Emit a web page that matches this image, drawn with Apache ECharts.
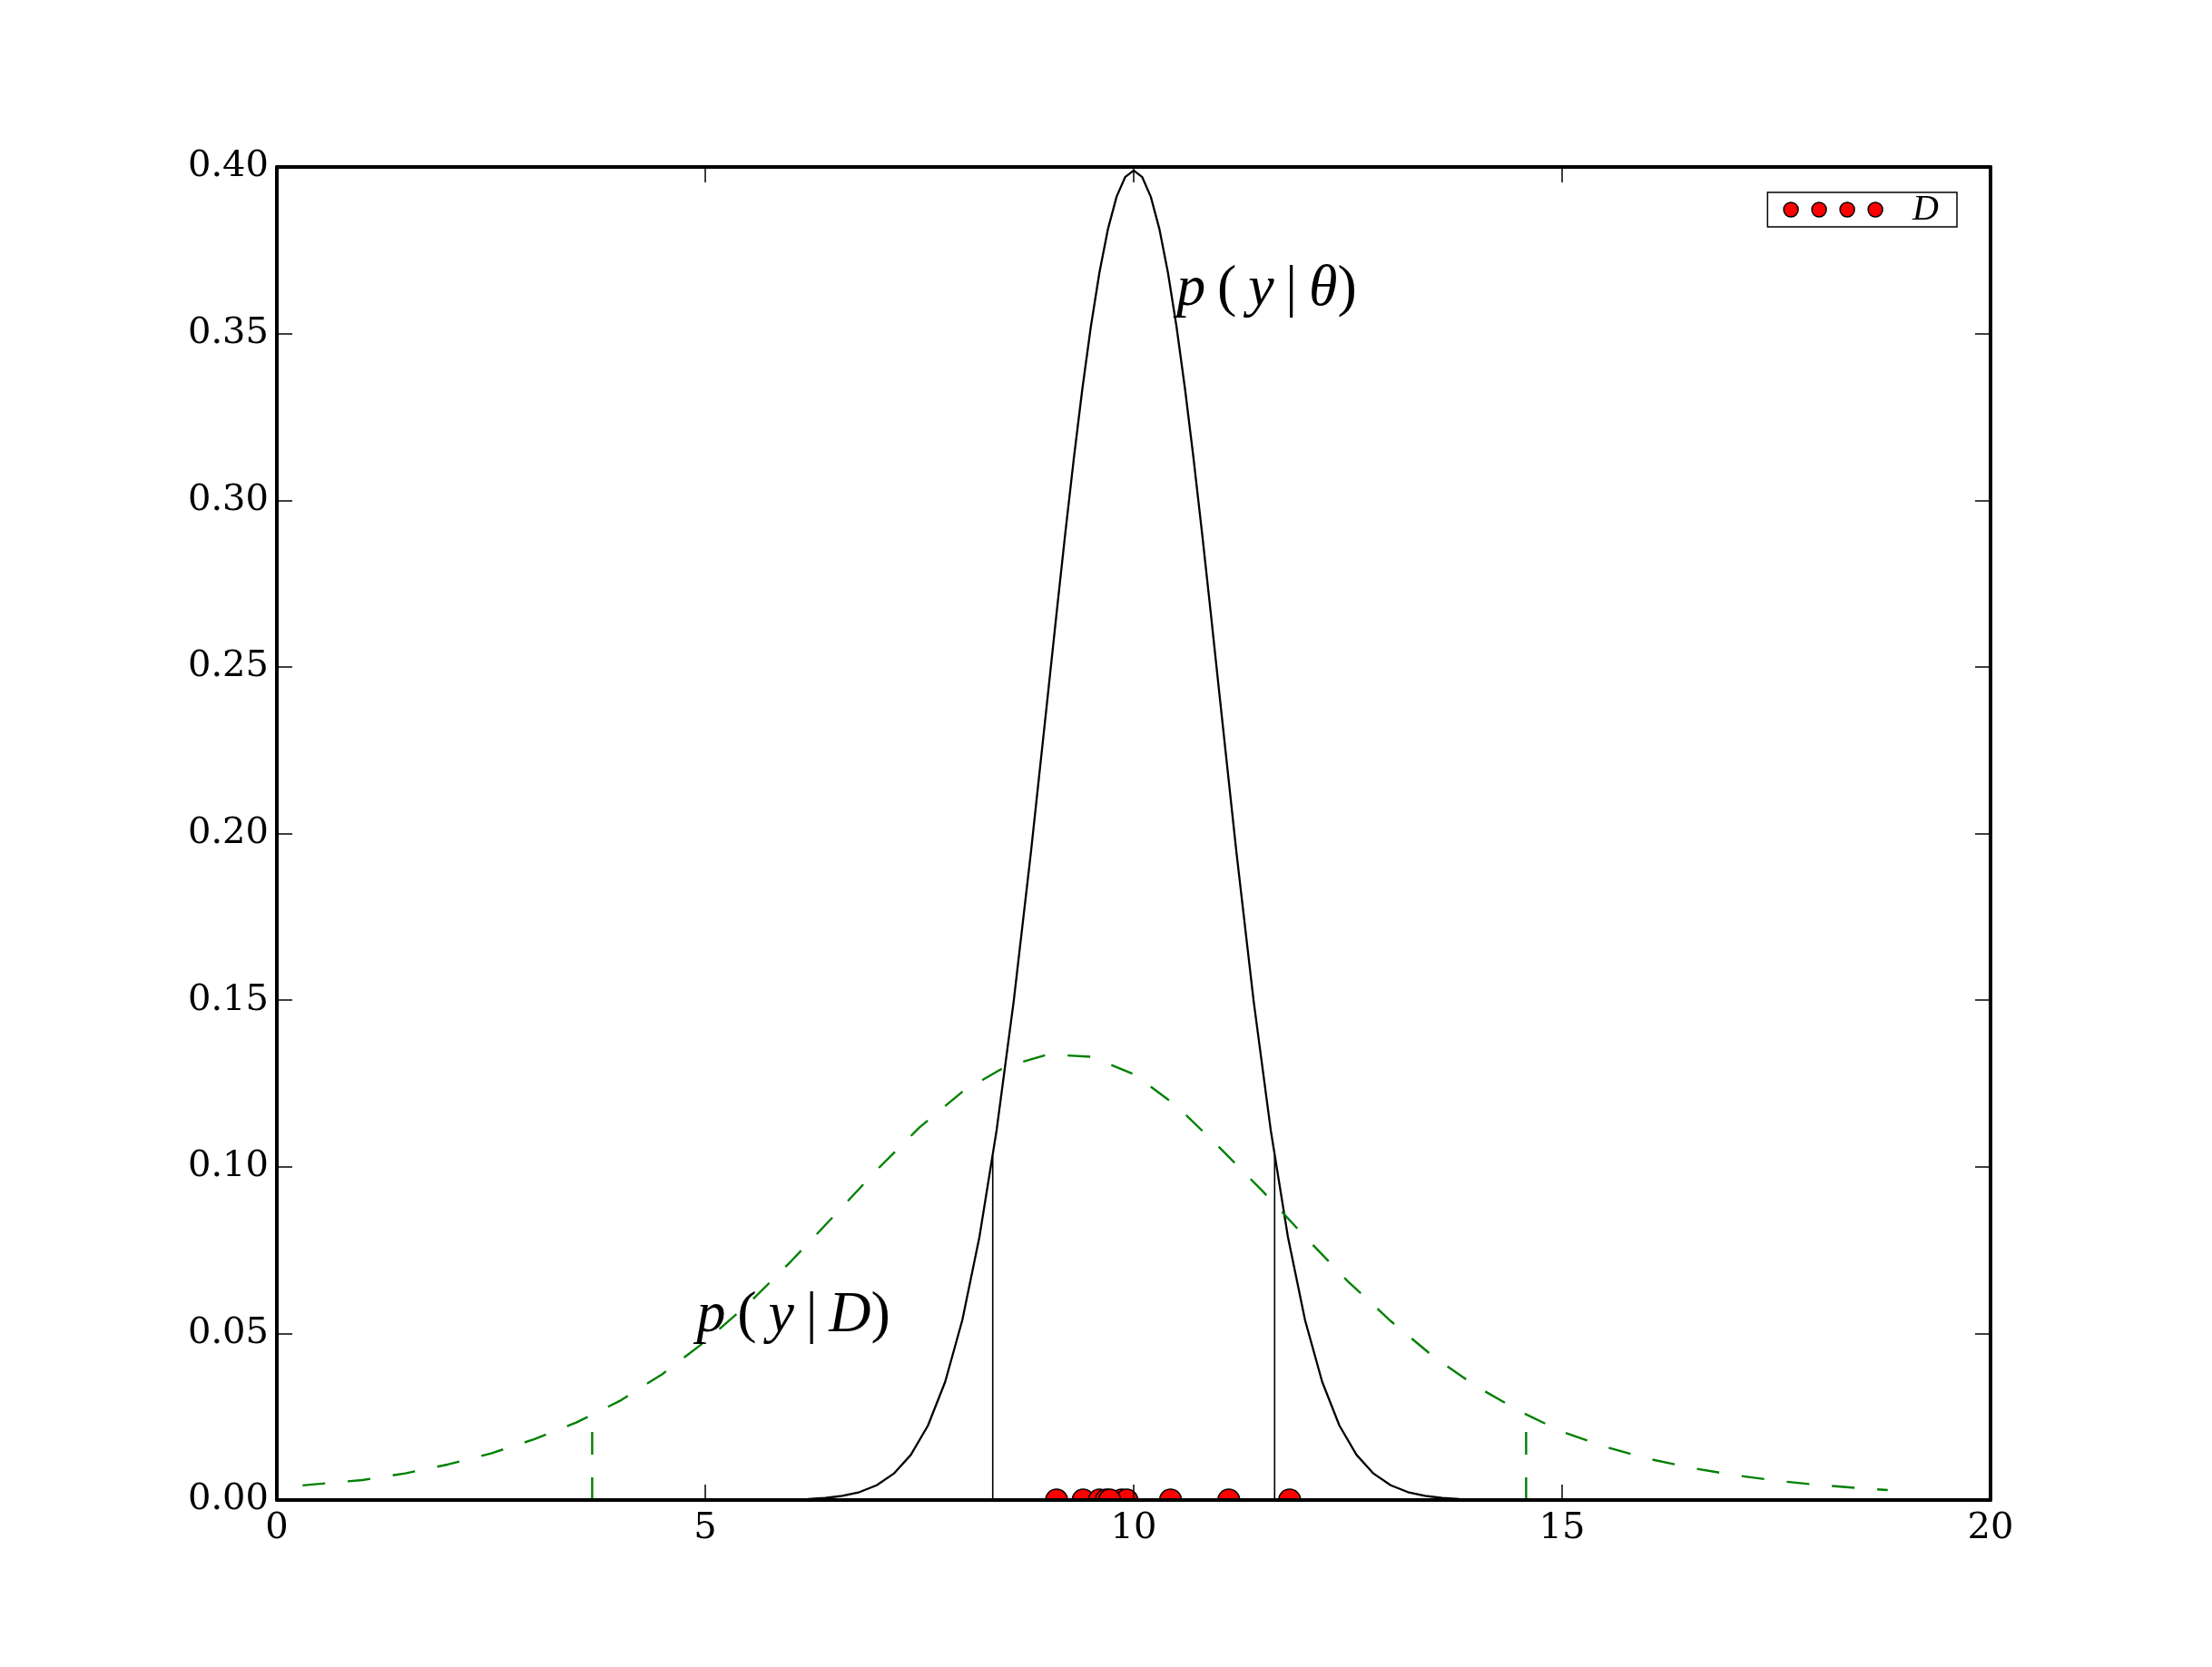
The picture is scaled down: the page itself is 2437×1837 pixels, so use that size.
<!DOCTYPE html>
<html><head><meta charset="utf-8">
<script src="https://cdn.jsdelivr.net/npm/echarts@6/dist/echarts.min.js"></script>
<style>html,body{margin:0;padding:0;background:#fff}#chart{width:2437px;height:1837px}</style>
</head><body><div id="chart"></div>
<script>
// ---- data ----
// p(y|theta): solid black density curve
const thetaX = [0,
  6.0,6.2,6.4,6.6,6.8,7.0,7.2,7.4,7.6,7.8,8.0,8.2,8.4,8.6,8.8,
  9.0,9.1,9.2,9.3,9.4,9.5,9.6,9.7,9.8,9.9,10.0,10.1,10.2,10.3,10.4,10.5,10.6,10.7,10.8,10.9,11.0,
  11.2,11.4,11.6,11.8,12.0,12.2,12.4,12.6,12.8,13.0,13.2,13.4,13.6,13.8,14.0,
  20];
const thetaY = [0,
  0.00013,0.00029,0.00061,0.00123,0.00238,0.00443,0.00792,0.01358,0.02239,0.03547,0.05399,0.07895,0.11092,0.14973,0.19419,
  0.24197,0.26609,0.28969,0.31225,0.33322,0.35207,0.36827,0.38139,0.39104,0.39695,0.39894,0.39695,0.39104,0.38139,0.36827,0.35207,0.33322,0.31225,0.28969,0.26609,0.24197,
  0.19419,0.14973,0.11092,0.07895,0.05399,0.03547,0.02239,0.01358,0.00792,0.00443,0.00238,0.00123,0.00061,0.00029,0.00013,
  0];
// interval lines of p(y|theta)
const thetaIntX = [8.355, 11.645];
const thetaIntTop = [0.1031, 0.1031];

// p(y|D): dashed green predictive curve
const predX = [0.3,1.0,1.5,2.0,2.5,3.0,3.5,4.0,4.5,5.0,5.5,6.0,6.5,7.0,7.5,8.0,8.5,9.0,9.5,
  10.0,10.5,11.0,11.5,12.0,12.5,13.0,13.5,14.0,14.5,15.0,15.5,16.0,16.5,17.0,17.5,18.0,18.5,18.8];
const predY = [0.0044,0.0060,0.0080,0.0107,0.0140,0.0182,0.0233,0.0297,0.0378,0.0476,0.0588,0.0716,0.0852,0.0990,0.1118,0.1225,0.1300,0.1337,0.1330,
  0.1278,0.1183,0.1058,0.0928,0.0790,0.0656,0.0537,0.0430,0.0341,0.0267,0.0205,0.0160,0.0124,0.0097,0.0075,0.0058,0.0045,0.0035,0.0030];
// interval lines of p(y|D)
const predIntX = [3.68, 14.58];
const predIntTop = [0.0254, 0.0250];

// observed data D
const obsX = [9.10, 9.41, 9.60, 9.68, 9.86, 9.92, 9.72, 10.43, 11.11, 11.82];

// axis ticks
const xMin = 0, xMax = 20, xStep = 5;
const yMin = 0, yMax = 0.40, yStep = 0.05;

// annotations (data coords of left/baseline)
const annotX = [10.5, 4.90];
const annotY = [0.3574, 0.0493];
const annotSym = ['θ', 'D'];

// ---- chart ----
const chart = echarts.init(document.getElementById('chart'), null, {renderer: 'canvas'});
const pairs = (xs, ys) => xs.map((x, i) => [x, ys[i]]);
const tickFont = {fontFamily: 'DejaVu Serif', fontSize: 40, color: '#000'};
const spine = {show: true, onZero: false, lineStyle: {color: '#000', width: 4}};
const tick = {show: true, inside: true, length: 17, lineStyle: {color: '#000', width: 1.5}};

const series = [
  {type: 'line', name: 'ptheta', data: pairs(thetaX, thetaY), showSymbol: false, symbol: 'none',
   lineStyle: {color: '#000', width: 2.3}, z: 3, silent: true},
  {type: 'line', name: 'pD', data: pairs(predX, predY), showSymbol: false, symbol: 'none',
   lineStyle: {color: '#008000', width: 2.4, type: [25, 25]}, z: 3, silent: true}
];
thetaIntX.forEach((x, i) => series.push({type: 'line', data: [[x, 0], [x, thetaIntTop[i]]], symbol: 'none',
  lineStyle: {color: '#000', width: 1.6}, z: 3, silent: true}));
predIntX.forEach((x, i) => series.push({type: 'line', data: [[x, 0], [x, predIntTop[i]]], symbol: 'none',
  lineStyle: {color: '#008000', width: 2.4, type: [25, 25]}, z: 3, silent: true}));
series.push({
  type: 'custom', name: 'D', clip: true, z: 4,
  data: obsX.map(x => [x, 0]),
  encode: {x: 0, y: 1},
  itemStyle: {color: '#ff0000'},
  renderItem: (params, api) => {
    const p = api.coord([api.value(0), api.value(1)]);
    return {type: 'circle', shape: {cx: p[0], cy: p[1], r: 12},
      style: {fill: '#ff0000', stroke: '#000', lineWidth: 1.6}};
  }
});

const iconPath = 'path://M0,8A8,8,0,1,1,16,8A8,8,0,1,1,0,8ZM31,8A8,8,0,1,1,47,8A8,8,0,1,1,31,8ZM62,8A8,8,0,1,1,78,8A8,8,0,1,1,62,8ZM93,8A8,8,0,1,1,109,8A8,8,0,1,1,93,8Z';

chart.setOption({
  animation: false,
  backgroundColor: '#fff',
  grid: {left: 305, right: 244, top: 184, bottom: 184, containLabel: false},
  legend: {
    right: 281, top: 212, orient: 'horizontal',
    padding: [-1, 20, -1, 17], itemGap: 0,
    itemWidth: 109, itemHeight: 16,
    borderColor: '#000', borderWidth: 1.5, backgroundColor: '#fff',
    selectedMode: false,
    textStyle: {fontFamily: 'Liberation Serif', fontStyle: 'italic', fontSize: 40, lineHeight: 31, height: 31,
      padding: [0, 0, 0, 28], color: '#000'},
    data: [{name: 'D', icon: iconPath, itemStyle: {color: '#ff0000', borderColor: '#000', borderWidth: 1.5}}]
  },
  xAxis: [
    {type: 'value', min: xMin, max: xMax, interval: xStep, position: 'bottom', z: 10,
     axisLine: spine, axisTick: tick, splitLine: {show: false},
     axisLabel: Object.assign({margin: 12}, tickFont)},
    {type: 'value', min: xMin, max: xMax, interval: xStep, position: 'top', z: 10,
     axisLine: spine, axisTick: tick, splitLine: {show: false}, axisLabel: {show: false}}
  ],
  yAxis: [
    {type: 'value', min: yMin, max: yMax, interval: yStep, position: 'left', z: 10,
     axisLine: spine, axisTick: tick, splitLine: {show: false},
     axisLabel: Object.assign({margin: 9, formatter: v => v.toFixed(2)}, tickFont)},
    {type: 'value', min: yMin, max: yMax, interval: yStep, position: 'right', z: 10,
     axisLine: spine, axisTick: tick, splitLine: {show: false}, axisLabel: {show: false}}
  ],
  series: series
});

// math-style annotations placed through the axes' scales
const S = 64;
const rich = {
  i: {fontFamily: 'Liberation Serif', fontStyle: 'italic', fontSize: S, fill: '#000'},
  u: {fontFamily: 'Liberation Serif', fontSize: S, fill: '#000'}
};
const graphics = annotX.map((x, k) => {
  const p = chart.convertToPixel({xAxisIndex: 0, yAxisIndex: 0}, [x, annotY[k]]);
  return {
    type: 'text', x: p[0], y: p[1] - 0.34 * S, z: 20,
    style: {
      text: '{i|p}{u|\u2009(\u2009}{i|y}{u|\u2009|\u2009}{i|' + annotSym[k] + '}{u|)}',
      rich: rich, align: 'left', verticalAlign: 'middle',
      fontFamily: 'Liberation Serif', fontSize: S, fill: '#000'
    }
  };
});
chart.setOption({graphic: graphics});
</script></body></html>
